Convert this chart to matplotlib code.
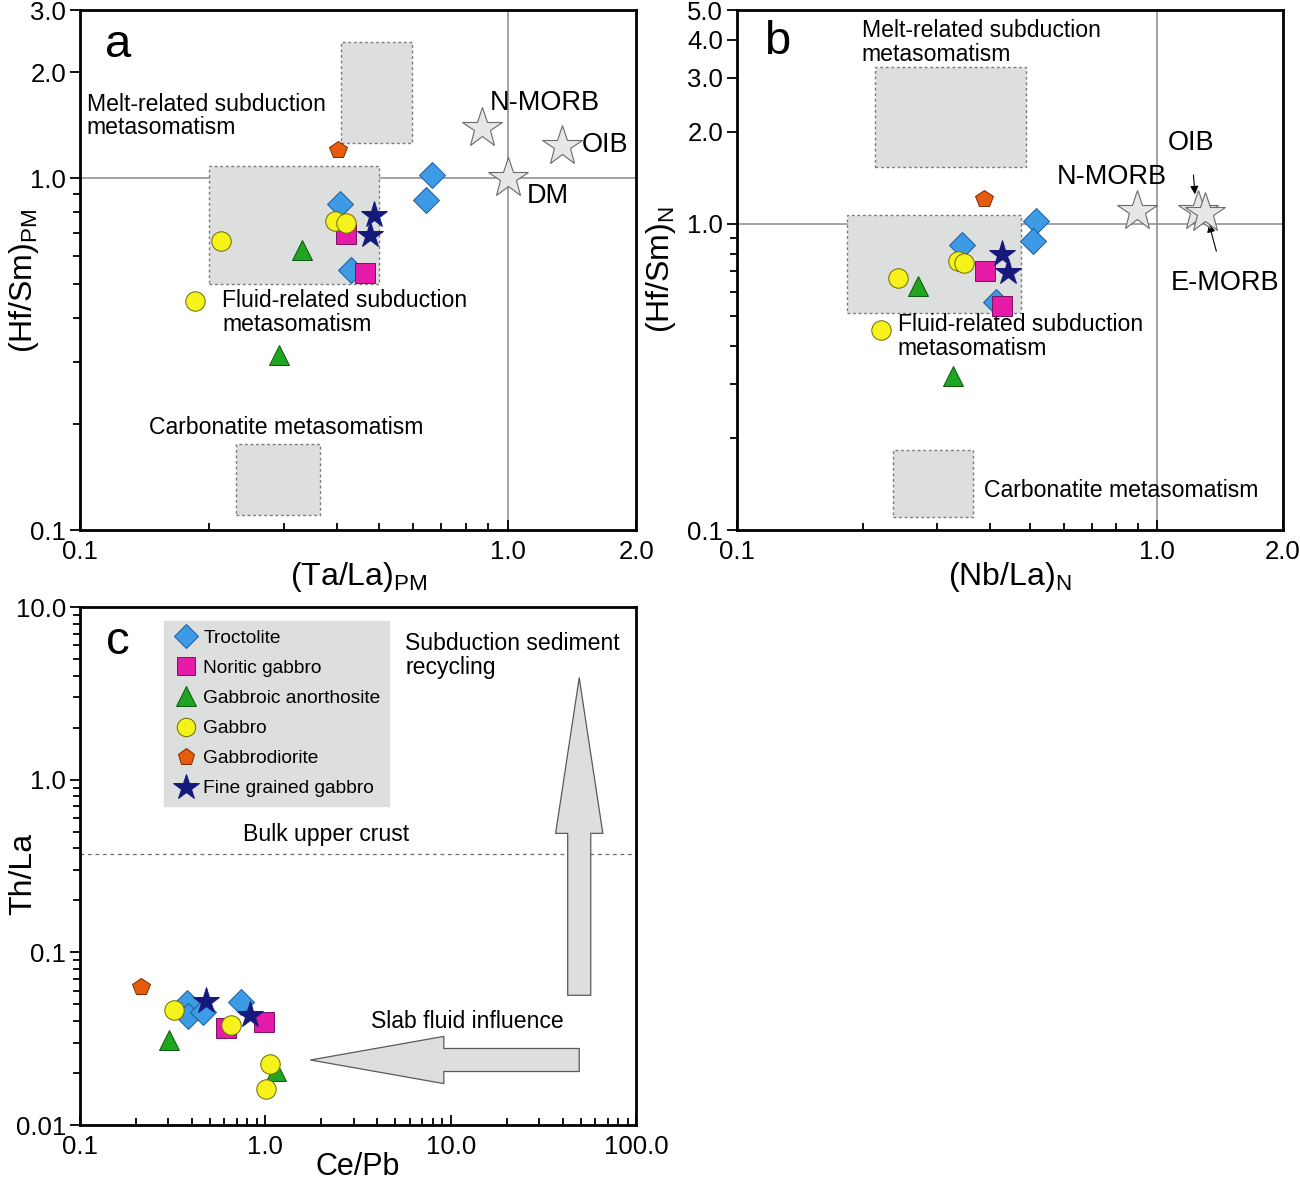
import matplotlib
matplotlib.use('Agg')
from matplotlib import pyplot as plt
from matplotlib.lines import Line2D
from matplotlib.patches import Rectangle
from matplotlib.ticker import FixedLocator, FixedFormatter, LogLocator, NullFormatter

plt.rcParams['font.family'] = ['Liberation Sans', 'DejaVu Sans']
plt.rcParams['mathtext.fontset'] = 'custom'
plt.rcParams['mathtext.rm'] = 'Liberation Sans'
plt.rcParams['mathtext.it'] = 'Liberation Sans'

# sample groups (legend order)
groups = ['Troctolite', 'Noritic gabbro', 'Gabbroic anorthosite', 'Gabbro',
          'Gabbrodiorite', 'Fine grained gabbro']

# panel a: (Ta/La)PM vs (Hf/Sm)PM
a_x = {'Troctolite': [0.405, 0.665, 0.643, 0.43],
       'Noritic gabbro': [0.418, 0.463],
       'Gabbroic anorthosite': [0.330, 0.292],
       'Gabbro': [0.2135, 0.394, 0.418, 0.186],
       'Gabbrodiorite': [0.401],
       'Fine grained gabbro': [0.486, 0.476]}
a_y = {'Troctolite': [0.844, 1.02, 0.866, 0.548],
       'Noritic gabbro': [0.693, 0.537],
       'Gabbroic anorthosite': [0.624, 0.314],
       'Gabbro': [0.662, 0.755, 0.745, 0.447],
       'Gabbrodiorite': [1.20],
       'Fine grained gabbro': [0.786, 0.689]}
a_ref_names = ['N-MORB', 'OIB', 'DM']
a_ref_x = [0.87, 1.337, 1.0]
a_ref_y = [1.387, 1.233, 1.0]

# panel b: (Nb/La)N vs (Hf/Sm)N
b_x = {'Troctolite': [0.3436, 0.516, 0.5077, 0.414],
       'Noritic gabbro': [0.39, 0.428],
       'Gabbroic anorthosite': [0.27, 0.327],
       'Gabbro': [0.2415, 0.336, 0.3475, 0.22],
       'Gabbrodiorite': [0.3878],
       'Fine grained gabbro': [0.428, 0.4425]}
b_y = {'Troctolite': [0.853, 1.023, 0.88, 0.555],
       'Noritic gabbro': [0.702, 0.539],
       'Gabbroic anorthosite': [0.626, 0.318],
       'Gabbro': [0.665, 0.757, 0.745, 0.449],
       'Gabbrodiorite': [1.208],
       'Fine grained gabbro': [0.797, 0.697]}
b_ref_names = ['N-MORB', 'OIB', 'E-MORB']
b_ref_x = [0.896, 1.253, 1.30]
b_ref_y = [1.103, 1.103, 1.086]

# panel c: Ce/Pb vs Th/La
c_x = {'Troctolite': [0.379, 0.384, 0.462, 0.741],
       'Noritic gabbro': [0.615, 0.988],
       'Gabbroic anorthosite': [0.303, 1.147],
       'Gabbro': [0.322, 0.655, 1.064, 1.01],
       'Gabbrodiorite': [0.214],
       'Fine grained gabbro': [0.48, 0.83]}
c_y = {'Troctolite': [0.0507, 0.0427, 0.045, 0.0514],
       'Noritic gabbro': [0.0364, 0.0394],
       'Gabbroic anorthosite': [0.031, 0.0205],
       'Gabbro': [0.0463, 0.0379, 0.0225, 0.0162],
       'Gabbrodiorite': [0.0628],
       'Fine grained gabbro': [0.052, 0.0432]}
upper_crust_thla = 0.37

# metasomatism fields: (x0, x1, y0, y1)
a_fields = {'melt': (0.407, 0.597, 1.257, 2.43),
            'fluid': (0.200, 0.500, 0.500, 1.08),
            'carb': (0.2315, 0.364, 0.110, 0.1755)}
b_fields = {'melt': (0.213, 0.489, 1.54, 3.25),
            'fluid': (0.183, 0.475, 0.51, 1.07),
            'carb': (0.235, 0.365, 0.110, 0.183)}

style = {'Troctolite': dict(marker='D', color='#3d9be6', mec='#1d5a96', ms=13),
         'Noritic gabbro': dict(marker='s', color='#e61aa8', mec='#7a1060', ms=14),
         'Gabbroic anorthosite': dict(marker='^', color='#1fa51f', mec='#0d560d', ms=15),
         'Gabbro': dict(marker='o', color='#f6f21c', mec='#6e6a00', ms=14),
         'Gabbrodiorite': dict(marker='p', color='#e65c0f', mec='#7a2c00', ms=13),
         'Fine grained gabbro': dict(marker='*', color='#15197c', mec='#15197c', ms=20)}

BOX_FC = '#dcdfde'
TXT = 16.6


def draw_samples(ax, xs, ys):
    for g in groups:
        st = style[g]
        ax.plot(xs[g], ys[g], ls='none', marker=st['marker'], mfc=st['color'],
                mec=st['mec'], mew=0.7, ms=st['ms'], zorder=5)


def draw_fields(ax, fields):
    for x0, x1, y0, y1 in fields.values():
        ax.add_patch(Rectangle((x0, y0), x1 - x0, y1 - y0, fc=BOX_FC, ec='#7a7a7a',
                               lw=1, ls=(0, (2, 2)), zorder=1))


def setup_axis(ax, xlim, ylim, xt, xl, yt, yl):
    ax.set_xscale('log')
    ax.set_yscale('log')
    ax.set_xlim(*xlim)
    ax.set_ylim(*ylim)
    ax.xaxis.set_major_locator(FixedLocator(xt))
    ax.xaxis.set_major_formatter(FixedFormatter(xl))
    ax.yaxis.set_major_locator(FixedLocator(yt))
    ax.yaxis.set_major_formatter(FixedFormatter(yl))
    ax.xaxis.set_minor_locator(LogLocator(subs=range(2, 10), numticks=20))
    ax.yaxis.set_minor_locator(LogLocator(subs=range(2, 10), numticks=20))
    ax.xaxis.set_minor_formatter(NullFormatter())
    ax.yaxis.set_minor_formatter(NullFormatter())
    ax.tick_params(axis='x', which='both', direction='in', labelsize=18.5, pad=7)
    ax.tick_params(axis='y', which='both', direction='out', labelsize=18.5, pad=3)
    ax.tick_params(which='major', length=7, width=1.3)
    ax.tick_params(which='minor', length=5, width=1.3)
    for s in ax.spines.values():
        s.set_linewidth(2)


fig = plt.figure(figsize=(13, 11.81), dpi=100)
ax_a = fig.add_axes([0.0615, 0.5512, 0.428, 0.4403])
ax_b = fig.add_axes([0.567, 0.5512, 0.42, 0.4403])
ax_c = fig.add_axes([0.0615, 0.0474, 0.428, 0.4386])

# ---- panel a
ax = ax_a
setup_axis(ax, (0.1, 2.0), (0.1, 3.0), [0.1, 1.0, 2.0], ['0.1', '1.0', '2.0'],
           [0.1, 1.0, 2.0, 3.0], ['0.1', '1.0', '2.0', '3.0'])
ax.axvline(1.0, color='#8a8a8a', lw=1.1, zorder=0)
ax.axhline(1.0, color='#8a8a8a', lw=1.1, zorder=0)
draw_fields(ax, a_fields)
ax.plot(a_ref_x, a_ref_y, ls='none', marker='*', ms=30, mfc='#e6e8e8', mec='#6a6a6a',
        mew=0.8, zorder=4)
draw_samples(ax, a_x, a_y)
ax.text(0.068, 0.933, 'a', transform=ax.transAxes, fontsize=34, ha='center', va='center')
ax.text(0.1038, 1.5, 'Melt-related subduction\nmetasomatism', fontsize=TXT,
        ha='left', va='center', linespacing=1.05)
ax.text(0.908, 1.63, 'N-MORB', fontsize=19.5, ha='left', va='center')
ax.text(1.49, 1.24, 'OIB', fontsize=19.5, ha='left', va='center')
ax.text(1.108, 0.889, 'DM', fontsize=19.5, ha='left', va='center')
ax.text(0.215, 0.416, 'Fluid-related subduction\nmetasomatism', fontsize=TXT,
        ha='left', va='center', linespacing=1.05)
ax.text(0.145, 0.196, 'Carbonatite metasomatism', fontsize=TXT, ha='left', va='center')
ax.set_xlabel(r'(Ta/La)$_{\mathrm{PM}}$', fontsize=23)
ax.set_ylabel(r'(Hf/Sm)$_{\mathrm{PM}}$', fontsize=23)
ax.xaxis.set_label_coords(0.5, -0.057)
ax.yaxis.set_label_coords(-0.07, 0.48)

# ---- panel b
ax = ax_b
setup_axis(ax, (0.1, 2.0), (0.1, 5.0), [0.1, 1.0, 2.0], ['0.1', '1.0', '2.0'],
           [0.1, 1.0, 2.0, 3.0, 4.0, 5.0], ['0.1', '1.0', '2.0', '3.0', '4.0', '5.0'])
ax.axvline(1.0, color='#8a8a8a', lw=1.1, zorder=0)
ax.axhline(1.0, color='#8a8a8a', lw=1.1, zorder=0)
draw_fields(ax, b_fields)
ax.plot(b_ref_x, b_ref_y, ls='none', marker='*', ms=30, mfc='#e6e8e8', mec='#6a6a6a',
        mew=0.8, zorder=4)
draw_samples(ax, b_x, b_y)
ax.text(0.073, 0.938, 'b', transform=ax.transAxes, fontsize=34, ha='center', va='center')
ax.text(0.198, 3.92, 'Melt-related subduction\nmetasomatism', fontsize=TXT,
        ha='left', va='center', linespacing=1.05)
ax.text(0.577, 1.426, 'N-MORB', fontsize=19.5, ha='left', va='center')
ax.annotate('OIB', xy=(1.233, 1.25), xytext=(1.206, 1.844), fontsize=19.5,
            ha='center', va='center',
            arrowprops=dict(arrowstyle='-|>', color='black', lw=0.8, mutation_scale=12,
                            shrinkA=12, shrinkB=0))
ax.annotate('E-MORB', xy=(1.332, 1.0), xytext=(1.454, 0.641), fontsize=19.5,
            ha='center', va='center',
            arrowprops=dict(arrowstyle='-|>', color='black', lw=0.8, mutation_scale=12,
                            shrinkA=12, shrinkB=0))
ax.text(0.2415, 0.43, 'Fluid-related subduction\nmetasomatism', fontsize=TXT,
        ha='left', va='center', linespacing=1.05)
ax.text(0.388, 0.135, 'Carbonatite metasomatism', fontsize=TXT, ha='left', va='center')
ax.set_xlabel(r'(Nb/La)$_{\mathrm{N}}$', fontsize=23)
ax.set_ylabel(r'(Hf/Sm)$_{\mathrm{N}}$', fontsize=23)
ax.xaxis.set_label_coords(0.5, -0.057)
ax.yaxis.set_label_coords(-0.108, 0.5)

# ---- panel c
ax = ax_c
setup_axis(ax, (0.1, 100.0), (0.01, 10.0), [0.1, 1.0, 10.0, 100.0],
           ['0.1', '1.0', '10.0', '100.0'], [0.01, 0.1, 1.0, 10.0],
           ['0.01', '0.1', '1.0', '10.0'])
ax.axhline(upper_crust_thla, color='#6a6a6a', lw=0.9, ls=(0, (3, 3)), zorder=0)
arrow_kw = dict(fc=BOX_FC, ec='#5a5a5a', lw=0.9, shrinkA=0, shrinkB=0, mutation_scale=10)
ax.annotate('', xy=(49.2, 3.89), xytext=(49.2, 0.0564),
            arrowprops=dict(arrowstyle='simple,head_length=11.2,head_width=3.4,tail_width=1.66',
                            **arrow_kw))
ax.annotate('', xy=(1.75, 0.0238), xytext=(49.2, 0.0238),
            arrowprops=dict(arrowstyle='simple,head_length=9.6,head_width=3.4,tail_width=1.66',
                            **arrow_kw))
draw_samples(ax, c_x, c_y)
ax.text(0.068, 0.932, 'c', transform=ax.transAxes, fontsize=34, ha='center', va='center')
ax.text(0.5845, 0.907, 'Subduction sediment\nrecycling', transform=ax.transAxes,
        fontsize=TXT, ha='left', va='center', linespacing=1.05)
ax.text(0.293, 0.56, 'Bulk upper crust', transform=ax.transAxes, fontsize=TXT,
        ha='left', va='center')
ax.text(0.523, 0.199, 'Slab fluid influence', transform=ax.transAxes, fontsize=TXT,
        ha='left', va='center')
ax.set_xlabel('Ce/Pb', fontsize=22)
ax.set_ylabel('Th/La', fontsize=23)
ax.xaxis.set_label_coords(0.5, -0.052)
ax.yaxis.set_label_coords(-0.075, 0.485)

handles = [Line2D([], [], ls='none', marker=style[g]['marker'], mfc=style[g]['color'],
                  mec=style[g]['mec'], mew=0.7, ms=style[g]['ms'] * 0.95) for g in groups]
leg = ax.legend(handles, groups, loc='upper left', bbox_to_anchor=(0.151, 0.973),
                borderaxespad=0, frameon=True, fancybox=False, framealpha=1,
                facecolor=BOX_FC, edgecolor=BOX_FC, fontsize=13.8, labelspacing=0.66,
                handletextpad=0.2, handlelength=1.4, borderpad=0.45)
leg.set_zorder(6)

fig.savefig('out.png', dpi=100)
